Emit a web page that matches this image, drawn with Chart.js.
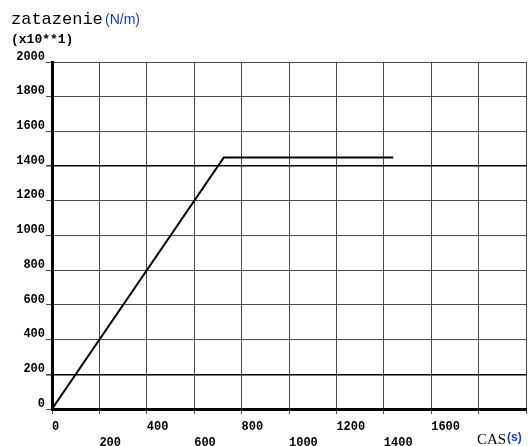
<!DOCTYPE html>
<html>
<head>
<meta charset="utf-8">
<script src="https://cdn.jsdelivr.net/npm/chart.js@4"></script>
<style>
  body { margin: 0; background: #fff; }
  #wrap { width: 531px; height: 446px; }
</style>
</head>
<body>
<div id="wrap"><canvas id="loadChart" width="531" height="446"></canvas></div>
<script>
// load curve: time (s) and load (N/m, x10)
const timeS = [0, 725, 1440];
const load = [0, 1450, 1450];
// x ticks that carry a label (upper row / lower row alternate)
const xTickLabels = [0, 200, 400, 600, 800, 1000, 1200, 1400, 1600];
const yTickLabels = [0, 200, 400, 600, 800, 1000, 1200, 1400, 1600, 1800, 2000];

const points = timeS.map((t, i) => ({ x: t, y: load[i] }));

// titles drawn straight on the canvas so the baselines line up
const titles = {
  id: 'titles',
  afterDraw(chart) {
    const c = chart.ctx;
    c.save();
    c.textBaseline = 'alphabetic';
    c.textAlign = 'left';
    c.fillStyle = '#000';
    c.font = '17px "Liberation Mono"';
    c.fillText('zatazenie', 11, 24);
    c.fillStyle = '#1a3cb4';
    c.font = '14px "Liberation Sans"';
    c.fillText('(N/m)', 105, 24);
    c.fillStyle = '#000';
    c.font = 'bold 13px "Liberation Mono"';
    c.fillText('(x10**1)', 11, 43);
    c.font = '15px "Liberation Serif"';
    c.fillText('CAS', 477, 444);
    c.fillStyle = '#1a3cb4';
    c.font = 'bold 12px "Liberation Sans"';
    c.fillText('(s)', 507, 441);
    c.restore();
  }
};

const gridColor = (ctx) => (ctx.tick && (ctx.tick.value === 200 || ctx.tick.value === 1400)) ? '#000' : '#4a4a4a';

new Chart(document.getElementById('loadChart'), {
  type: 'line',
  data: {
    datasets: [{
      data: points,
      borderColor: '#000',
      borderWidth: 2,
      pointRadius: 0,
      tension: 0,
      fill: false
    }]
  },
  options: {
    responsive: false,
    animation: false,
    layout: { padding: { top: 62, right: 4, left: 0, bottom: 0 } },
    plugins: { legend: { display: false }, tooltip: { enabled: false } },
    scales: {
      x: {
        type: 'linear',
        min: 0, max: 2000,
        afterFit(s) { s.height = 37; },
        border: { color: '#000', width: 3 },
        grid: { color: '#4a4a4a', lineWidth: 1, tickLength: 5, tickColor: '#4a4a4a' },
        ticks: {
          stepSize: 200,
          autoSkip: false,
          maxRotation: 0,
          align: 'start',
          padding: 5,
          color: '#000',
          font: { family: 'Liberation Mono', size: 12, weight: 'bold', lineHeight: 1.35 },
          callback(v) {
            const i = xTickLabels.indexOf(v);
            if (i < 0) return '';
            return i % 2 === 0 ? [String(v)] : ['', String(v)];
          }
        }
      },
      y: {
        min: 0, max: 2000,
        afterFit(s) { s.width = 52; },
        border: { color: '#000', width: 3 },
        grid: {
          color: gridColor,
          lineWidth: (ctx) => gridColor(ctx) === '#000' ? 1.6 : 1,
          tickLength: 6, tickColor: '#4a4a4a'
        },
        ticks: {
          stepSize: 200,
          autoSkip: false,
          padding: 1,
          color: '#000',
          font: { family: 'Liberation Mono', size: 12, weight: 'bold', lineHeight: 0.9 },
          callback(v) {
            return yTickLabels.includes(v) ? [String(v), ''] : '';
          }
        }
      }
    }
  },
  plugins: [titles]
});
</script>
</body>
</html>
